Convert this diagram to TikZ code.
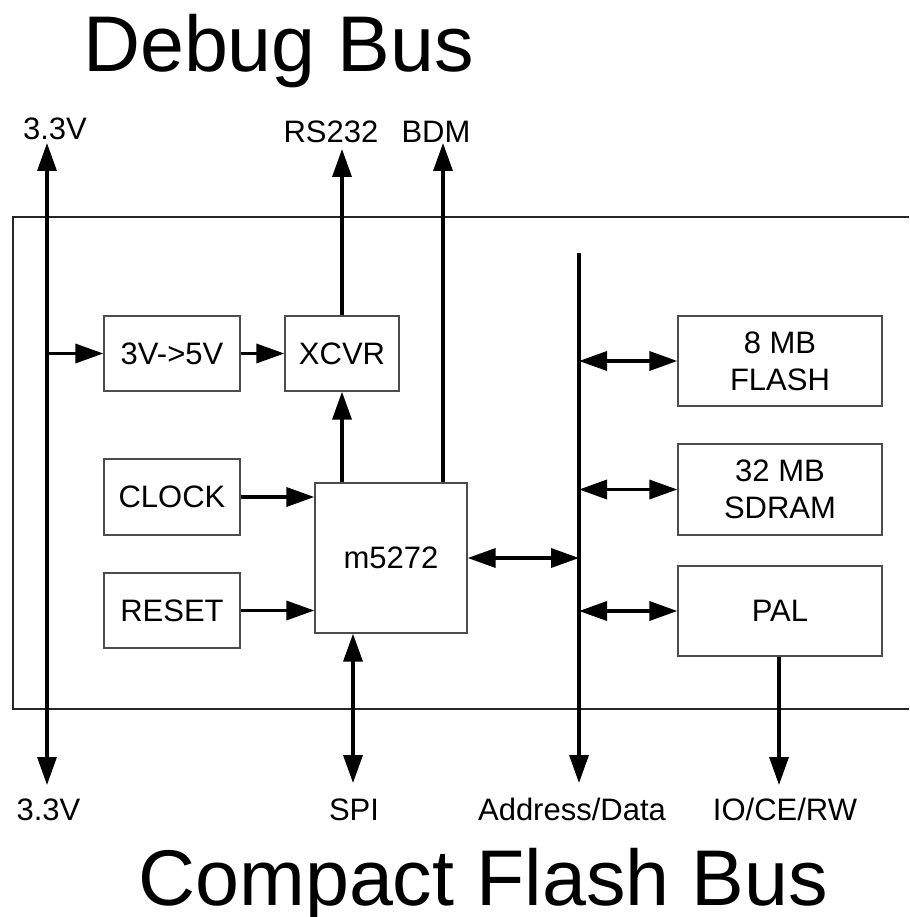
\documentclass[tikz,border=0pt]{standalone}
\usepackage{fontspec}
\setmainfont{Liberation Sans}
\usetikzlibrary{arrows.meta}
\begin{document}
\begin{tikzpicture}[x=1pt,y=-1pt,
  blk/.style={draw=black!70,line width=1.3pt,fill=white,inner sep=0pt,align=center,
    font=\fontsize{31}{37}\selectfont},
  lbl/.style={anchor=base,inner sep=0pt,font=\fontsize{31}{37}\selectfont},
  ttl/.style={anchor=base,inner sep=0pt,font=\fontsize{79}{90}\selectfont},
  wire/.style={line width=3.5pt},
  tip/.style={-{Triangle[length=28pt,width=19pt]}},
  tips/.style={{Triangle[length=28pt,width=19pt]}-{Triangle[length=28pt,width=19pt]}}]
\useasboundingbox (0,0) rectangle (909,917);
% frame (open to the right)
\draw[line width=1.3pt,black!85] (909,217) -- (13,217) -- (13,709) -- (909,709);
% titles
\node[ttl] (t1) at (278.5,72) {Debug Bus};
\node[ttl] (t2) at (483,905) {Compact Flash Bus};
% blocks
\node[blk,minimum width=136pt,minimum height=75pt] (conv) at (172,353.5) {3V->5V};
\node[blk,minimum width=114pt,minimum height=75pt] (xcvr) at (342,353.5) {XCVR};
\node[blk,minimum width=136pt,minimum height=76pt] (clock) at (172,497) {CLOCK};
\node[blk,minimum width=136pt,minimum height=75pt] (reset) at (172,610.5) {RESET};
\node[blk,minimum width=152pt,minimum height=150pt] (cpu) at (391,558) {m5272};
\node[blk,minimum width=204pt,minimum height=90pt] (flash) at (780,361) {8 MB\\FLASH};
\node[blk,minimum width=204pt,minimum height=91pt] (sdram) at (780,489.5) {32 MB\\SDRAM};
\node[blk,minimum width=204pt,minimum height=90pt] (pal) at (780,611) {PAL};
% labels
\node[lbl] (l33t) at (55,140) {3.3V};
\node[lbl] (lrs) at (331,143) {RS232};
\node[lbl] (lbdm) at (436,143) {BDM};
\node[lbl] (l33b) at (48.5,820) {3.3V};
\node[lbl] (lspi) at (354,820) {SPI};
\node[lbl] (lad) at (572,820) {Address/Data};
\node[lbl] (lio) at (785,820) {IO/CE/RW};
% coordinates
\coordinate (vtop) at (47,143);
\coordinate (vbot) at (47,785);
\coordinate (rstop) at (342,149);
\coordinate (bdmtop) at (443,143);
\coordinate (spibot) at (353,783);
\coordinate (bustop) at (579,253);
\coordinate (busbot) at (579,783);
\coordinate (palbot) at (779,785);
% power rail
\draw[wire,tips] (vtop) -- (vbot);
\draw[wire,tip] (vtop |- conv.west) -- (conv.west);
\draw[wire,tip] (conv.east) -- (xcvr.west);
% debug
\draw[wire,tip] (xcvr.north) -- (rstop);
\draw[wire,tip] (cpu.north -| xcvr.south) -- (xcvr.south);
\draw[wire,tip] (cpu.north -| bdmtop) -- (bdmtop);
% inputs
\draw[wire,tip] (clock.east) -- (clock.east -| cpu.west);
\draw[wire,tip] (reset.east) -- (reset.east -| cpu.west);
% spi
\draw[wire,tips] (cpu.south -| spibot) -- (spibot);
% bus
\draw[wire,tip] (bustop) -- (busbot);
\draw[wire,tips] (cpu.east) -- (cpu.east -| bustop);
\draw[wire,tips] (flash.west -| bustop) -- (flash.west);
\draw[wire,tips] (sdram.west -| bustop) -- (sdram.west);
\draw[wire,tips] (pal.west -| bustop) -- (pal.west);
\draw[wire,tip] (pal.south -| palbot) -- (palbot);
\end{tikzpicture}
\end{document}
